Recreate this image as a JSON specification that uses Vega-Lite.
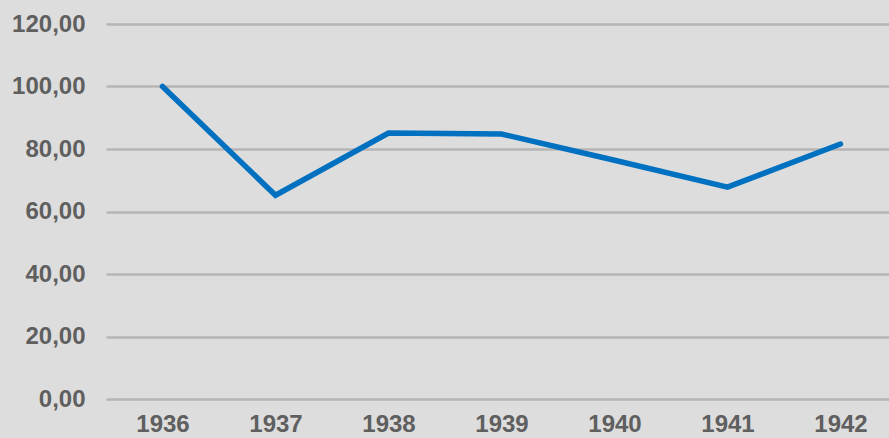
{
  "$schema": "https://vega.github.io/schema/vega-lite/v6.json",
  "width": 791,
  "height": 375,
  "autosize": {"type": "none"},
  "padding": {"left": 106, "top": 24, "right": 0, "bottom": 39},
  "background": "#dddddd",
  "config": {
    "view": {"stroke": null},
    "font": "Liberation Sans"
  },
  "data": {
    "values": [
      {"year": "1936", "value": 100.0},
      {"year": "1937", "value": 65.2},
      {"year": "1938", "value": 85.1},
      {"year": "1939", "value": 84.8},
      {"year": "1940", "value": 76.4},
      {"year": "1941", "value": 67.8},
      {"year": "1942", "value": 81.6}
    ]
  },
  "mark": {"type": "line", "color": "#0070c0", "strokeWidth": 5.5, "strokeCap": "round"},
  "encoding": {
    "x": {
      "field": "year",
      "type": "ordinal",
      "scale": {"type": "point", "padding": 0.5},
      "axis": {
        "title": null,
        "labelAngle": 0,
        "domain": false,
        "ticks": false,
        "labelFont": "Liberation Sans",
        "labelFontWeight": "bold",
        "labelFontSize": 24,
        "labelColor": "#5f5f5f",
        "labelPadding": 13
      }
    },
    "y": {
      "field": "value",
      "type": "quantitative",
      "scale": {"domain": [0, 120], "nice": false},
      "axis": {
        "title": null,
        "values": [0, 20, 40, 60, 80, 100, 120],
        "labelExpr": "replace(format(datum.value, '.2f'), '.', ',')",
        "domain": false,
        "ticks": false,
        "labelFont": "Liberation Sans",
        "labelFontWeight": "bold",
        "labelFontSize": 24,
        "labelColor": "#5f5f5f",
        "labelPadding": 21,
        "grid": true,
        "gridColor": "#b5b5b5",
        "gridWidth": 2.5
      }
    }
  }
}
